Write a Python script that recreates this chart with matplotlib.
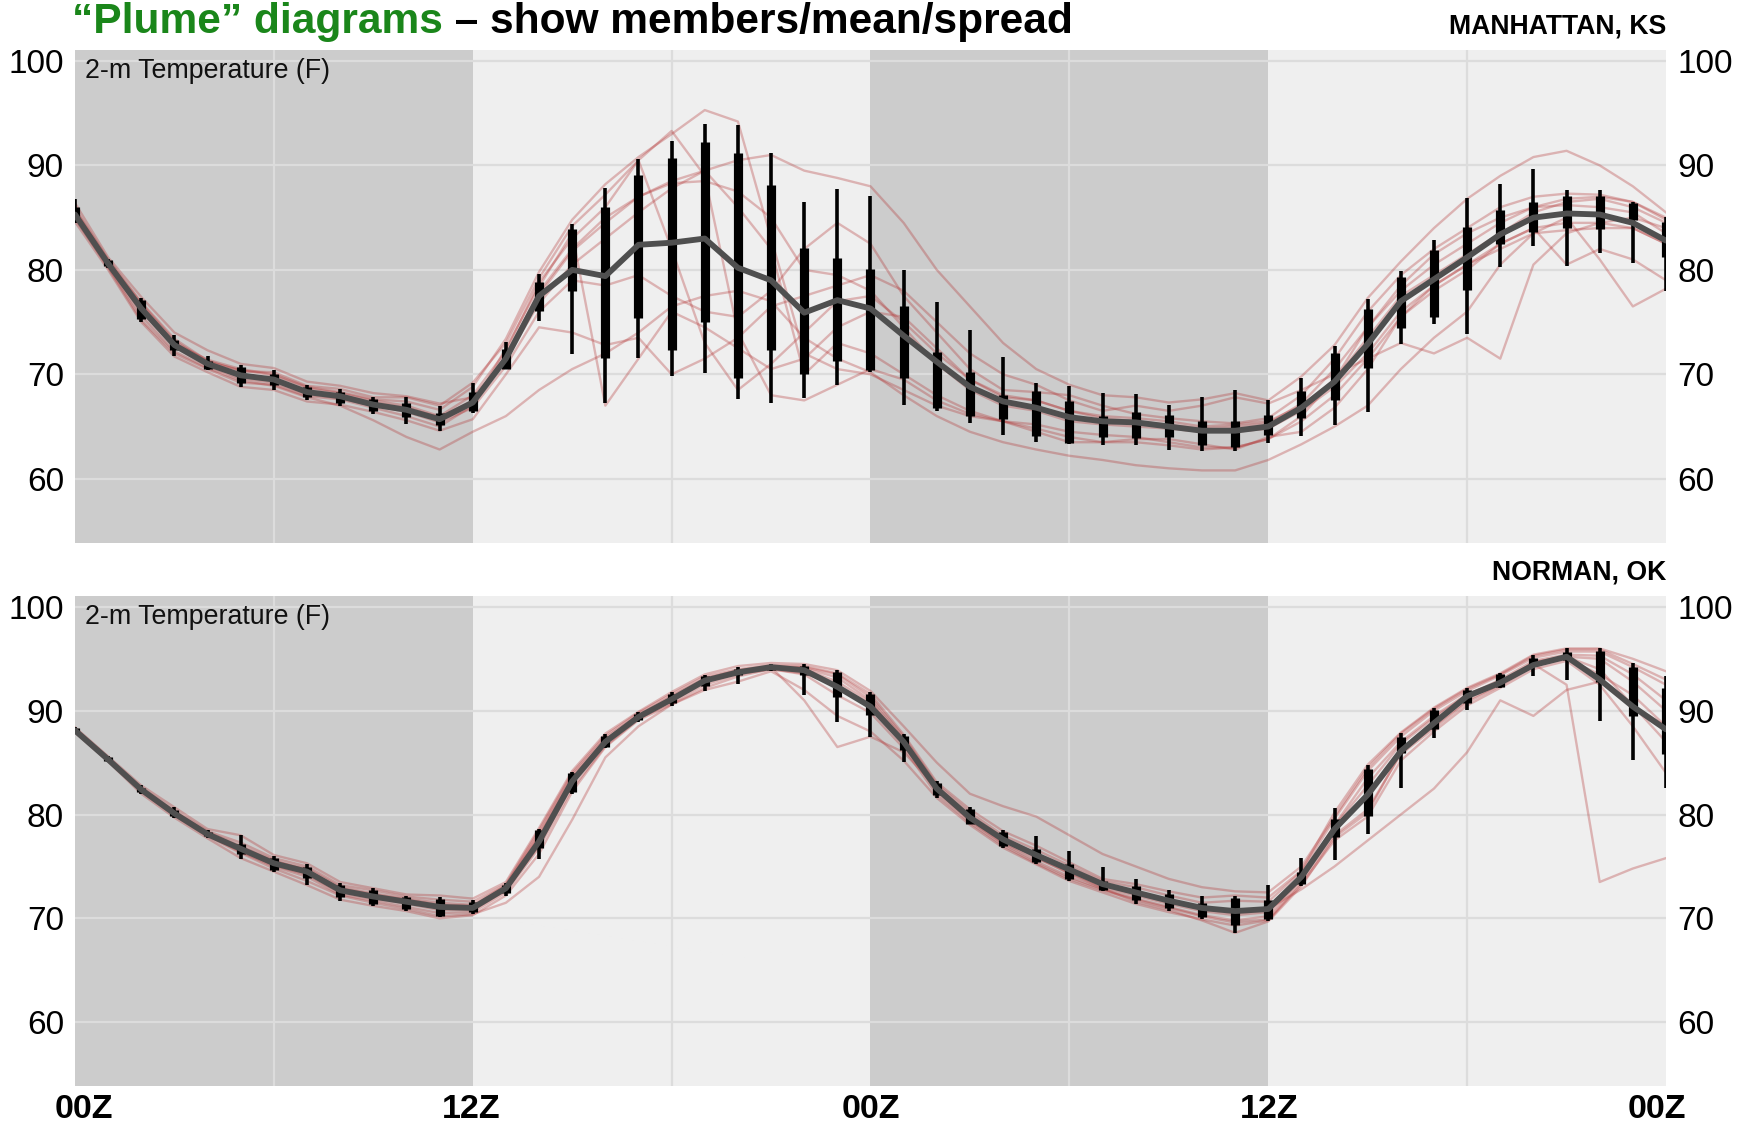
import matplotlib
matplotlib.use("Agg")
import matplotlib.pyplot as plt
import numpy as np

plt.rcParams['font.family'] = ['Liberation Sans', 'DejaVu Sans']

hours = list(range(49))
yticks = [60, 70, 80, 90, 100]
time_labels = ["00Z", "12Z", "00Z", "12Z", "00Z"]
time_label_hours = [0, 12, 24, 36, 48]
night_spans = [(0, 12), (24, 36)]

# ---------------- Manhattan, KS ----------------
mhk_whisker_lo = [84.5, 80.2, 75.0, 71.8, 70.4, 68.8, 68.5, 67.5, 67.0, 66.2, 65.2, 64.6, 66.3,
                  70.5, 75.1, 71.9, 67.3, 71.6, 69.8, 70.1, 67.6, 67.3, 67.7, 69.0, 70.2,
                  67.1, 66.5, 65.3, 64.2, 63.5, 63.3, 63.2, 63.2, 62.8, 62.7, 62.7, 63.4,
                  64.1, 65.1, 66.4, 72.9, 74.8, 73.9, 80.3, 82.3, 80.4, 81.6, 80.7, 78.0]
mhk_box_lo = [85.0, 80.4, 75.3, 72.3, 70.5, 69.2, 69.0, 67.8, 67.3, 66.5, 65.9, 65.1, 66.5,
              70.5, 76.1, 78.0, 71.6, 75.4, 72.3, 75.0, 69.6, 72.3, 70.0, 71.3, 70.4,
              69.6, 66.8, 66.0, 65.7, 64.1, 63.4, 64.0, 63.9, 64.0, 63.2, 63.0, 64.2,
              65.8, 67.5, 70.6, 74.4, 75.5, 78.1, 82.5, 83.6, 84.0, 83.9, 84.8, 81.2]
mhk_box_hi = [86.0, 80.9, 77.1, 73.3, 71.3, 70.7, 70.0, 68.8, 68.3, 67.6, 67.3, 66.3, 68.3,
              72.4, 78.8, 83.9, 86.0, 89.1, 90.7, 92.2, 91.2, 88.1, 82.1, 81.1, 80.1,
              76.5, 72.1, 70.2, 68.0, 68.4, 67.4, 66.0, 66.4, 66.1, 65.5, 65.5, 66.1,
              68.4, 72.0, 76.3, 79.3, 81.9, 84.1, 85.7, 86.5, 87.1, 87.1, 86.4, 84.6]
mhk_whisker_hi = [86.8, 81.0, 77.3, 73.8, 71.8, 70.9, 70.4, 69.0, 68.6, 67.8, 67.8, 67.0, 69.2,
                  73.1, 79.6, 84.4, 87.8, 90.6, 92.3, 94.0, 93.9, 91.2, 86.5, 87.7, 87.1,
                  80.0, 76.9, 74.2, 71.7, 69.2, 68.9, 68.2, 68.1, 67.1, 67.8, 68.5, 67.5,
                  69.6, 72.7, 77.2, 79.9, 82.9, 86.9, 88.2, 89.7, 87.6, 87.6, 86.5, 85.1]
mhk_mean = [85.3, 80.6, 76.3, 72.8, 71.0, 69.9, 69.5, 68.3, 67.9, 67.1, 66.6, 65.7, 67.3,
            71.5, 77.5, 80.0, 79.4, 82.4, 82.6, 83.0, 80.2, 79.0, 75.9, 77.1, 76.3,
            73.7, 71.2, 68.8, 67.4, 66.8, 65.9, 65.5, 65.4, 65.0, 64.6, 64.6, 65.0,
            66.8, 69.3, 72.9, 77.0, 79.1, 81.2, 83.4, 85.0, 85.4, 85.3, 84.5, 82.8]
# one row per forecast hour, one column per ensemble member
mhk_members = [
    [85.0, 85.6, 85.9, 86.4, 84.9, 85.3, 85.2, 84.6, 85.8, 85.4],
    [80.3, 80.8, 81.0, 81.2, 80.2, 80.6, 80.5, 80.0, 80.9, 80.7],
    [75.6, 76.6, 76.9, 77.4, 75.2, 76.2, 76.0, 75.0, 76.8, 76.4],
    [72.2, 73.0, 73.4, 74.0, 72.0, 72.7, 72.6, 71.7, 73.2, 72.9],
    [70.6, 71.4, 71.3, 72.3, 70.5, 71.0, 70.8, 70.2, 71.2, 71.0],
    [69.4, 70.5, 70.3, 71.0, 69.2, 69.9, 69.6, 68.8, 70.4, 70.0],
    [68.9, 70.0, 70.2, 70.6, 69.0, 69.4, 69.2, 68.5, 69.9, 69.6],
    [67.8, 68.8, 68.9, 69.3, 67.9, 68.3, 68.1, 67.4, 68.7, 68.4],
    [67.0, 68.3, 68.6, 68.9, 67.6, 67.9, 67.7, 67.1, 68.2, 68.0],
    [65.6, 67.6, 67.8, 68.2, 66.8, 67.1, 67.0, 66.4, 67.5, 67.3],
    [64.0, 67.4, 67.8, 67.9, 66.0, 66.5, 66.4, 65.6, 67.0, 66.8],
    [62.8, 66.6, 67.0, 67.2, 65.0, 65.6, 65.4, 64.6, 66.0, 65.9],
    [64.5, 68.8, 69.2, 67.8, 67.0, 67.2, 66.8, 65.7, 68.0, 67.5],
    [66.0, 73.4, 73.0, 71.5, 72.5, 71.6, 70.8, 70.0, 72.2, 71.8],
    [68.5, 79.8, 79.2, 76.8, 78.4, 77.6, 76.0, 74.5, 78.8, 77.9],
    [70.5, 84.8, 84.2, 80.5, 83.5, 81.8, 79.0, 74.0, 83.0, 82.0],
    [72.0, 88.2, 87.2, 83.0, 67.0, 84.5, 78.5, 72.8, 86.0, 85.0],
    [74.0, 90.8, 90.5, 85.5, 71.5, 87.0, 79.5, 73.5, 90.5, 87.0],
    [76.5, 93.0, 93.3, 87.8, 76.0, 88.3, 77.5, 70.0, 82.0, 88.5],
    [77.5, 95.3, 89.0, 89.5, 74.5, 88.5, 76.0, 71.5, 73.0, 89.5],
    [78.0, 94.2, 74.0, 90.5, 72.5, 87.5, 75.5, 73.5, 68.5, 86.0],
    [77.0, 83.0, 68.0, 91.0, 70.5, 85.0, 78.0, 76.5, 71.0, 82.0],
    [73.5, 72.0, 67.5, 89.5, 71.5, 80.0, 82.0, 77.5, 74.0, 70.0],
    [71.5, 70.5, 69.0, 88.8, 74.5, 79.5, 84.5, 78.5, 77.0, 73.0],
    [70.2, 70.0, 70.5, 88.0, 76.0, 78.0, 82.5, 79.5, 77.5, 72.0],
    [68.0, 68.5, 69.5, 84.5, 75.5, 74.5, 77.5, 78.0, 75.0, 70.0],
    [66.0, 67.0, 67.5, 80.0, 72.5, 71.0, 74.0, 75.0, 72.0, 68.0],
    [64.5, 66.0, 66.2, 76.5, 69.5, 68.5, 70.5, 72.0, 69.5, 66.5],
    [63.5, 65.5, 65.5, 73.0, 67.8, 67.0, 68.5, 70.0, 68.0, 65.5],
    [62.8, 65.2, 64.8, 70.5, 67.5, 66.5, 68.3, 69.0, 67.5, 64.5],
    [62.2, 64.5, 64.0, 69.0, 66.5, 65.5, 68.0, 67.5, 66.5, 63.5],
    [61.8, 64.2, 63.5, 68.0, 66.0, 65.2, 67.0, 66.5, 65.8, 63.5],
    [61.3, 64.0, 63.5, 67.8, 65.8, 65.0, 66.2, 67.0, 65.5, 63.8],
    [61.0, 63.5, 63.2, 67.3, 65.5, 64.8, 65.8, 66.5, 65.2, 63.8],
    [60.8, 63.0, 62.8, 67.6, 65.0, 64.5, 65.5, 67.0, 64.8, 63.3],
    [60.8, 63.0, 63.0, 68.2, 65.2, 64.5, 65.3, 67.8, 65.0, 62.8],
    [61.8, 63.8, 63.8, 67.5, 65.5, 64.8, 65.8, 67.2, 65.3, 64.0],
    [63.3, 65.5, 66.0, 69.8, 67.0, 66.5, 68.0, 68.5, 67.2, 64.5],
    [65.0, 68.0, 69.5, 72.8, 69.5, 68.8, 71.5, 70.0, 70.5, 66.8],
    [67.0, 71.5, 74.5, 77.3, 73.5, 72.0, 76.0, 71.5, 74.5, 70.5],
    [70.5, 75.5, 78.5, 80.8, 77.5, 76.0, 79.5, 73.0, 78.0, 75.5],
    [73.5, 78.5, 81.5, 84.0, 79.5, 78.5, 82.0, 72.0, 80.5, 78.0],
    [76.0, 80.5, 83.5, 86.8, 81.5, 80.5, 84.0, 73.5, 82.5, 80.0],
    [80.5, 82.5, 85.0, 89.0, 83.5, 82.0, 86.0, 71.5, 84.5, 82.5],
    [83.5, 84.0, 86.0, 90.8, 85.5, 83.5, 87.0, 80.5, 86.0, 84.0],
    [85.0, 84.5, 86.8, 91.4, 86.5, 83.8, 87.3, 83.5, 86.2, 80.5],
    [81.0, 84.5, 87.0, 90.0, 86.8, 84.0, 87.2, 84.5, 86.0, 82.0],
    [76.5, 84.0, 86.5, 88.0, 86.0, 84.0, 86.5, 85.0, 85.5, 81.0],
    [78.2, 82.5, 85.0, 85.5, 84.5, 82.5, 84.8, 84.0, 83.5, 79.0],
]

# ---------------- Norman, OK ----------------
oun_whisker_lo = [87.9, 85.1, 82.0, 79.7, 77.7, 75.7, 74.5, 73.2, 71.7, 71.2, 70.7, 70.1, 70.4,
                  72.2, 75.7, 82.0, 86.4, 88.9, 90.5, 91.9, 92.6, 93.8, 91.5, 88.9, 87.5,
                  85.1, 81.6, 79.1, 76.8, 75.2, 73.6, 72.6, 71.4, 70.7, 69.9, 68.6, 69.7,
                  73.1, 75.6, 78.1, 82.6, 87.4, 90.1, 92.2, 93.3, 93.0, 89.0, 85.3, 82.6]
oun_box_lo = [88.0, 85.2, 82.2, 79.9, 77.9, 76.2, 74.7, 73.9, 72.1, 71.4, 70.9, 70.2, 70.6,
              72.4, 76.8, 82.2, 86.5, 89.1, 90.7, 92.4, 93.4, 93.9, 93.4, 91.3, 89.6,
              86.2, 81.9, 79.1, 77.0, 75.4, 73.8, 72.7, 71.8, 71.0, 70.1, 69.4, 69.9,
              73.3, 77.8, 79.9, 85.9, 88.2, 90.7, 92.3, 94.4, 94.9, 92.8, 89.5, 85.8]
oun_box_hi = [88.3, 85.5, 82.6, 80.4, 78.3, 77.2, 75.8, 74.9, 73.2, 72.7, 72.1, 71.9, 71.6,
              73.2, 78.5, 84.0, 87.6, 89.7, 91.6, 93.3, 94.0, 94.3, 94.3, 93.7, 91.6,
              87.6, 83.0, 80.5, 78.3, 76.7, 75.2, 73.6, 73.1, 72.3, 71.5, 72.0, 71.8,
              74.5, 79.6, 84.4, 87.5, 90.1, 92.0, 93.5, 95.1, 95.7, 95.8, 94.2, 92.2]
oun_whisker_hi = [88.4, 85.6, 82.8, 80.7, 78.5, 78.0, 76.0, 75.2, 73.4, 72.9, 72.2, 72.1, 71.8,
                  73.4, 78.6, 84.1, 87.8, 89.9, 91.8, 93.4, 94.2, 94.5, 94.5, 93.9, 91.8,
                  87.8, 83.2, 80.7, 78.5, 77.9, 76.5, 74.9, 73.8, 72.7, 72.2, 72.2, 73.2,
                  75.8, 80.6, 84.8, 87.9, 90.3, 92.2, 93.6, 95.4, 96.0, 96.0, 94.6, 93.3]
oun_mean = [88.1, 85.3, 82.4, 80.1, 78.1, 76.7, 75.3, 74.5, 72.7, 72.1, 71.6, 71.1, 71.0,
            72.9, 77.4, 83.2, 87.0, 89.4, 91.1, 92.9, 93.7, 94.2, 93.9, 92.3, 90.4,
            87.0, 82.5, 79.7, 77.6, 76.1, 74.7, 73.3, 72.5, 71.7, 71.0, 70.7, 70.9,
            74.0, 78.6, 81.9, 86.1, 88.8, 91.4, 92.7, 94.4, 95.2, 93.0, 90.4, 88.2]
oun_members = [
    [88.0, 88.2, 88.4, 88.1, 87.9, 88.3, 88.0, 88.2, 88.1, 88.3],
    [85.2, 85.4, 85.6, 85.3, 85.1, 85.5, 85.2, 85.3, 85.4, 85.3],
    [82.2, 82.5, 82.8, 82.4, 82.0, 82.6, 82.3, 82.4, 82.5, 82.3],
    [79.9, 80.3, 80.7, 80.2, 79.7, 80.4, 80.0, 80.1, 80.2, 80.0],
    [77.9, 78.3, 78.6, 78.1, 77.7, 78.4, 78.0, 78.1, 78.2, 78.0],
    [76.3, 77.0, 78.0, 76.8, 75.8, 77.3, 76.5, 76.6, 76.9, 76.4],
    [74.8, 75.6, 76.1, 75.4, 74.5, 75.8, 75.1, 75.2, 75.5, 75.0],
    [73.6, 74.6, 75.3, 74.7, 73.2, 75.0, 74.2, 74.3, 74.8, 74.0],
    [72.2, 72.9, 73.5, 72.8, 71.8, 73.2, 72.5, 72.6, 73.0, 72.3],
    [71.5, 72.3, 72.9, 72.1, 71.2, 72.7, 71.9, 72.0, 72.4, 71.7],
    [70.9, 71.8, 72.3, 71.6, 70.7, 72.1, 71.4, 71.5, 71.9, 71.1],
    [70.2, 71.3, 72.2, 71.1, 70.0, 71.8, 70.8, 71.0, 71.5, 70.5],
    [70.4, 71.2, 71.9, 71.0, 70.3, 71.6, 70.8, 71.0, 71.3, 70.6],
    [71.5, 73.1, 73.5, 73.0, 72.2, 73.3, 72.7, 72.9, 73.2, 72.5],
    [74.0, 78.0, 78.7, 77.8, 76.2, 78.5, 77.0, 77.5, 78.2, 76.8],
    [79.5, 83.6, 84.2, 83.4, 82.2, 84.0, 83.0, 83.2, 83.8, 82.5],
    [85.5, 87.2, 87.8, 87.1, 86.5, 87.6, 86.9, 87.0, 87.4, 86.6],
    [88.5, 89.5, 89.9, 89.5, 89.1, 89.8, 89.3, 89.4, 89.6, 89.2],
    [90.6, 91.3, 91.8, 91.2, 90.6, 91.6, 91.0, 91.1, 91.4, 90.8],
    [92.2, 93.0, 93.5, 92.9, 92.0, 93.3, 92.8, 92.9, 93.1, 92.5],
    [93.3, 93.8, 94.3, 93.7, 92.8, 94.0, 93.6, 93.7, 93.9, 93.5],
    [94.0, 94.2, 94.6, 94.2, 93.8, 94.4, 94.1, 94.2, 94.3, 94.0],
    [93.6, 91.0, 94.5, 94.1, 92.0, 94.3, 93.8, 94.0, 94.2, 93.5],
    [92.5, 86.5, 93.9, 93.2, 89.5, 93.6, 92.2, 92.8, 93.5, 91.5],
    [90.5, 87.5, 91.9, 91.0, 88.0, 91.6, 90.3, 90.8, 91.3, 89.8],
    [87.0, 86.0, 88.5, 87.3, 85.2, 87.7, 86.7, 87.0, 87.5, 86.4],
    [82.3, 82.6, 85.0, 82.7, 81.6, 83.1, 82.2, 82.4, 82.9, 81.9],
    [79.4, 79.8, 82.0, 79.9, 79.0, 80.5, 79.5, 79.6, 80.2, 79.2],
    [77.2, 77.6, 80.8, 77.8, 76.8, 78.4, 77.3, 77.5, 78.0, 77.0],
    [75.5, 75.9, 79.8, 76.2, 75.2, 77.0, 75.8, 76.0, 76.6, 75.3],
    [74.0, 74.3, 78.0, 74.7, 73.6, 75.4, 74.4, 74.6, 75.1, 73.8],
    [72.8, 72.9, 76.2, 73.3, 72.5, 73.8, 73.0, 73.2, 73.6, 72.7],
    [71.9, 71.6, 75.0, 72.5, 71.4, 73.3, 72.2, 72.4, 73.0, 71.8],
    [71.1, 70.8, 73.8, 71.8, 70.6, 72.6, 71.4, 71.6, 72.2, 71.0],
    [70.3, 69.8, 73.0, 71.1, 69.9, 72.0, 70.7, 70.9, 71.5, 70.2],
    [69.8, 68.6, 72.6, 70.7, 69.3, 72.2, 70.3, 70.5, 71.7, 69.6],
    [70.2, 69.7, 72.5, 70.9, 69.8, 72.0, 70.6, 70.8, 71.6, 69.9],
    [73.8, 73.1, 75.0, 72.8, 73.3, 74.6, 73.8, 74.0, 74.5, 73.5],
    [79.0, 77.8, 79.8, 75.0, 77.5, 80.2, 78.6, 78.9, 79.6, 78.0],
    [83.5, 80.2, 84.5, 77.5, 79.8, 84.8, 82.0, 82.8, 84.2, 80.5],
    [87.0, 86.0, 87.8, 80.0, 85.2, 87.9, 86.3, 86.8, 87.5, 85.8],
    [89.5, 88.5, 90.2, 82.5, 88.0, 90.3, 88.9, 89.3, 90.0, 88.3],
    [91.6, 91.0, 92.1, 86.0, 90.5, 92.2, 91.3, 91.5, 91.9, 90.8],
    [92.8, 92.5, 93.5, 91.0, 92.2, 93.6, 92.8, 93.0, 93.4, 92.4],
    [94.5, 94.7, 95.3, 89.5, 94.0, 95.4, 94.6, 94.8, 95.1, 94.3],
    [92.5, 95.2, 95.9, 92.0, 94.8, 96.0, 95.2, 95.4, 95.7, 95.0],
    [73.5, 94.0, 95.9, 92.8, 92.5, 96.0, 95.0, 95.3, 95.7, 93.5],
    [74.8, 90.5, 94.5, 90.5, 88.5, 95.0, 92.8, 93.5, 94.2, 91.5],
    [75.8, 87.0, 93.0, 88.5, 84.0, 93.8, 90.0, 91.0, 92.5, 88.5],
]

W, H = 1738, 1127
fig = plt.figure(figsize=(W / 100, H / 100), dpi=100)
fig.patch.set_facecolor("white")

LEFT, RIGHT = 75, 1666


def panel(top, bottom):
    return fig.add_axes([LEFT / W, 1 - bottom / H, (RIGHT - LEFT) / W, (bottom - top) / H])


def draw_plume(ax, members, wlo, blo, bhi, whi, mean):
    ax.set_facecolor("#efefef")
    for a, b in night_spans:
        ax.axvspan(a, b, color="#cccccc", lw=0, zorder=0)
    for y in yticks:
        ax.axhline(y, color="#dcdcdc", lw=1.6, zorder=1)
    for x in [6, 18, 30, 42]:
        ax.axvline(x, color="#dcdcdc", lw=1.6, zorder=1)

    traces = np.array(members).T
    for tr in traces:
        ax.plot(hours, tr, color=(0.70, 0.20, 0.20), alpha=0.32, lw=1.7,
                solid_joinstyle="round", zorder=2)

    ax.vlines(hours, wlo, whi, color="black", lw=2.6, capstyle="butt", zorder=3)
    ax.vlines(hours, blo, bhi, color="black", lw=6.6, capstyle="butt", zorder=3)
    ax.plot(hours, mean, color="#4f4f4f", lw=4.2, solid_joinstyle="round",
            solid_capstyle="round", zorder=4)

    ax.set_xlim(0, 48)
    ax.set_ylim(53.85, 101.05)
    ax.set_xticks([])
    ax.set_yticks(yticks)
    ax.set_yticklabels([str(v) for v in yticks])
    ax.tick_params(axis="y", length=0, labelsize=24, pad=8,
                   labelleft=True, labelright=True)
    for s in ax.spines.values():
        s.set_visible(False)
    ax.text(10 / (RIGHT - LEFT), 0.957, "2-m Temperature (F)", transform=ax.transAxes,
            ha="left", va="center", fontsize=19.3, color="#111111", zorder=6)


ax1 = panel(50, 543)
draw_plume(ax1, mhk_members, mhk_whisker_lo, mhk_box_lo, mhk_box_hi, mhk_whisker_hi, mhk_mean)
ax2 = panel(596, 1086)
draw_plume(ax2, oun_members, oun_whisker_lo, oun_box_lo, oun_box_hi, oun_whisker_hi, oun_mean)

fig.text(RIGHT / W, 1 - 33 / H, "MANHATTAN, KS", ha="right", va="baseline",
         fontsize=19.2, fontweight="bold")
fig.text(RIGHT / W, 1 - 580 / H, "NORMAN, OK", ha="right", va="baseline",
         fontsize=19.2, fontweight="bold")

# Headline: green lead-in followed by black remainder
t1 = fig.text(72 / W, 1 - 33 / H, "\u201cPlume\u201d diagrams", ha="left", va="baseline",
              fontsize=30.6, fontweight="bold", color="#1a861a")
fig.canvas.draw()
bb = t1.get_window_extent(fig.canvas.get_renderer())
fig.text(bb.x1 / W, 1 - 33 / H, " \u2013 show members/mean/spread", ha="left", va="baseline",
         fontsize=30.6, fontweight="bold", color="black")

# Time axis labels under the lower panel
label_x = {0: 84, 12: 471, 24: 871, 36: 1269, 48: 1657}
for h, lab in zip(time_label_hours, time_labels):
    fig.text(label_x[h] / W, 1 - 1110 / H, lab, ha="center", va="center",
             fontsize=24.5, fontweight="bold")

fig.savefig("out.png", dpi=100)
